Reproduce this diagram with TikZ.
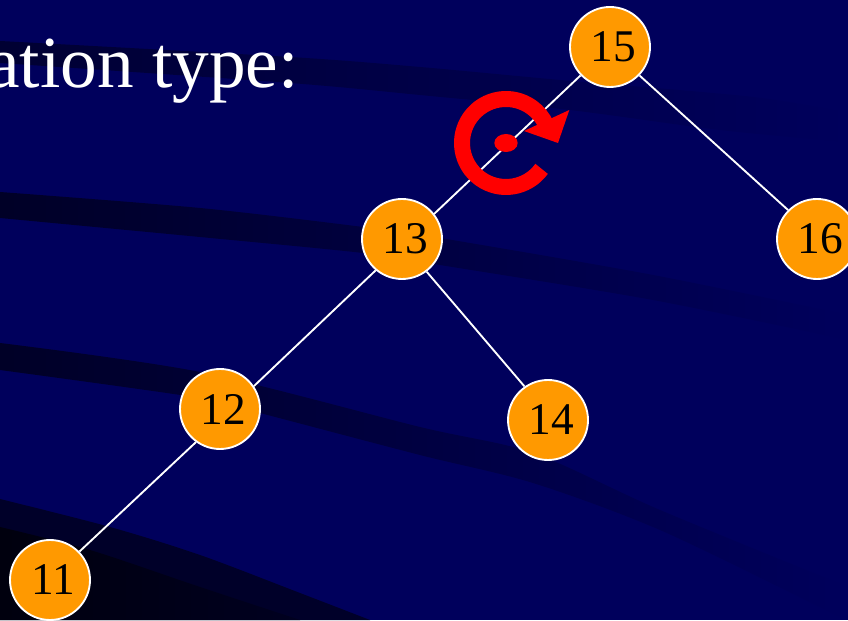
\documentclass[tikz,border=0pt]{standalone}
\usepackage{fontspec}
\setmainfont{Liberation Serif}
\usetikzlibrary{shapes.geometric}
\definecolor{slidebg}{HTML}{00005C}
\definecolor{keyorange}{HTML}{FF9900}
\begin{document}
\begin{tikzpicture}[
    x=0.75pt, y=0.75pt,
    node distance=128.25pt,
    keynode/.style={circle, draw=white, line width=1.4pt, fill=keyorange, inner sep=0pt, minimum size=60pt, text=black, font=\fontsize{34}{36}\selectfont, execute at begin node={\hspace{5pt}}},
    edge/.style={draw=white, line width=1.4pt},
    band/.style={left color=#1, right color=slidebg}
]
    % Background
    \useasboundingbox (0,0) rectangle (848,620);
    \fill [slidebg] (0,0) rectangle (848,620);
    \shade [band=black!45!slidebg] plot [smooth] coordinates {(0,579) (290,563) (420,553) (560,540) (753,523) (848,507)} -- plot [smooth] coordinates {(848,478) (720,490) (570,510) (420,525) (290,537) (0,557)} -- cycle;
    \shade [band=black!58!slidebg] plot [smooth] coordinates {(0,428) (200,412) (363,393) (440,382) (653,345) (848,305)} -- plot [smooth] coordinates {(848,280) (653,320) (440,355) (363,367) (200,383) (0,402)} -- cycle;
    \shade [band=black!58!slidebg] plot [smooth] coordinates {(0,277) (200,248) (420,193) (533,167) (660,110) (848,33)} -- plot [smooth] coordinates {(848,0) (820,13) (660,90) (533,137) (420,165) (260,207) (200,222) (0,250)} -- cycle;
    \fill [black!55!slidebg] plot [smooth] coordinates {(0,121) (110,93) (200,65) (300,27) (370,0)} -- (0,0) -- cycle;
    \shade [left color=black!85!slidebg, right color=black!65!slidebg] plot [smooth] coordinates {(0,93) (90,70) (200,33) (300,0)} -- (0,0) -- cycle;

    % Title
    \node [anchor=base east, text=white, inner sep=0pt, font=\fontsize{55}{60}\selectfont] (title) at (299,532) {ation type:};

    % Tree
    \node [keynode] (n15) at (610,573) {15};
    \node [keynode, below of=n15, xshift=-156pt, yshift=-15.75pt] (n13) {13};
    \node [keynode, below of=n15, xshift=155.25pt, yshift=-15.75pt] (n16) {16};
    \node [keynode, below of=n13, xshift=-136.5pt, yshift=0.75pt] (n12) {12};
    \node [keynode, below of=n13, xshift=109.5pt, yshift=-7.5pt] (n14) {14};
    \node [keynode, below of=n12, xshift=-127.5pt] (n11) {11};

    % Edges
    \draw [edge] (n15.224) -- (n13.38);
    \draw [edge] (n15.316) -- (n16.135);
    \draw [edge] (n13.230) -- (n12.34);
    \draw [edge] (n13.307) -- (n14.125);
    \draw [edge] (n12.234) -- (n11.44);

    % Rotation mark
    \node [ellipse, fill=red, inner sep=0pt, minimum width=17.5pt, minimum height=13.5pt] (pivot) at (506,477) {};
    \draw [red, line width=12pt] (pivot.center) ++(-36:33pt) arc [start angle=-36, end angle=-335, radius=33pt];
    \fill [red] (569.3,510) -- (558,477) -- (524,489) -- cycle;
\end{tikzpicture}
\end{document}
